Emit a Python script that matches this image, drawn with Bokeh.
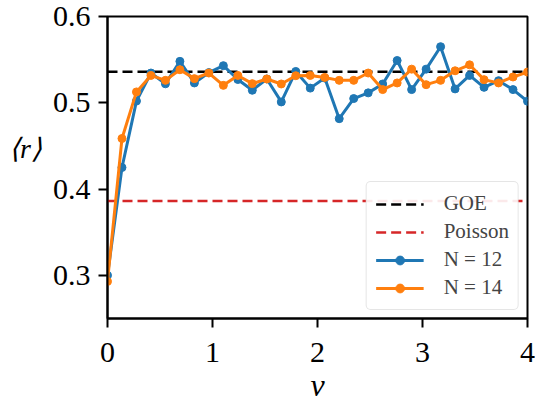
import numpy as np
from bokeh.plotting import figure
from bokeh.models import FixedTicker, Legend, LegendItem
from bokeh.embed import file_html
from bokeh.resources import INLINE

# ---- data ----
v = np.linspace(0, 4, 30)
r_n12 = [0.300, 0.425, 0.502, 0.5345, 0.522, 0.548, 0.523, 0.535, 0.543, 0.527,
         0.5145, 0.5276, 0.501, 0.5363, 0.517, 0.5287, 0.4816, 0.5049, 0.5115, 0.5218,
         0.549, 0.5153, 0.539, 0.565, 0.5161, 0.5317, 0.5179, 0.5256, 0.5153, 0.5018]
r_n14 = [0.293, 0.4586, 0.5126, 0.5317, 0.526, 0.5383, 0.528, 0.5345, 0.5202, 0.5317,
         0.5222, 0.5276, 0.5218, 0.5314, 0.5317, 0.5294, 0.526, 0.526, 0.5345, 0.5153,
         0.523, 0.539, 0.521, 0.526, 0.5371, 0.544, 0.5268, 0.523, 0.5299, 0.5356]
goe = 0.5359
poisson = 0.3863
x_ticks = [0, 1, 2, 3, 4]
y_ticks = [0.3, 0.4, 0.5, 0.6]

FONT = "Liberation Serif"
BLUE = "#1f77b4"
ORANGE = "#ff7f0e"
RED = "#d62728"

p = figure(width=535, height=405, x_range=(0, 4), y_range=(0.25, 0.6),
           output_backend="svg", toolbar_location=None,
           min_border_left=107, min_border_right=8, min_border_top=16, min_border_bottom=85)

p.xgrid.visible = False
p.ygrid.visible = False
p.outline_line_color = "black"
p.outline_line_width = 2
p.outline_line_alpha = 1

for ax in (p.xaxis[0], p.yaxis[0]):
    ax.axis_line_width = 2
    ax.major_tick_line_width = 2
    ax.major_tick_out = 9
    ax.major_tick_in = 0
    ax.minor_tick_out = 0
    ax.minor_tick_in = 0
    ax.major_label_text_font = FONT
    ax.major_label_text_font_size = "30px"
    ax.major_label_text_color = "black"
    ax.axis_label_text_font = FONT
    ax.axis_label_text_font_style = "italic"
    ax.axis_label_text_color = "black"
p.xaxis[0].ticker = FixedTicker(ticks=x_ticks)
p.yaxis[0].ticker = FixedTicker(ticks=y_ticks)
p.yaxis[0].major_label_overrides = {t: f"{t:.1f}" for t in y_ticks}
p.xaxis[0].major_label_standoff = 15
p.yaxis[0].major_label_standoff = 8

p.xaxis[0].axis_label = "v"
p.xaxis[0].axis_label_text_font_size = "32px"
p.xaxis[0].axis_label_text_line_height = 0.9
p.xaxis[0].axis_label_standoff = 2
p.yaxis[0].axis_label = "⟨r⟩\n"
p.yaxis[0].axis_label_text_font_size = "28px"
p.yaxis[0].axis_label_standoff = 8
p.yaxis[0].axis_label_orientation = "horizontal"

goe_r = p.line([0, 4], [goe, goe], line_color="black", line_width=2.5, line_dash="10 5")
poi_r = p.line([0, 4], [poisson, poisson], line_color=RED, line_width=2.5, line_dash="10 5")

l12 = p.line(v, r_n12, line_color=BLUE, line_width=3)
s12 = p.scatter(v, r_n12, size=8, fill_color=BLUE, line_color=BLUE)
l14 = p.line(v, r_n14, line_color=ORANGE, line_width=3)
s14 = p.scatter(v, r_n14, size=8, fill_color=ORANGE, line_color=ORANGE)

leg = Legend(items=[
    LegendItem(label="GOE", renderers=[goe_r]),
    LegendItem(label="Poisson", renderers=[poi_r]),
    LegendItem(label="N = 12", renderers=[l12, s12]),
    LegendItem(label="N = 14", renderers=[l14, s14]),
], location="bottom_right")
leg.label_text_font = FONT
leg.label_text_font_size = "21px"
leg.glyph_width = 48
leg.glyph_height = 22
leg.label_standoff = 20
leg.spacing = 3
leg.padding = 9
leg.margin = 8
leg.border_line_color = "#cccccc"
leg.border_line_width = 1.5
leg.border_radius = 5
leg.background_fill_alpha = 0.9
p.add_layout(leg)

open("out.html", "w").write(file_html(p, INLINE))
